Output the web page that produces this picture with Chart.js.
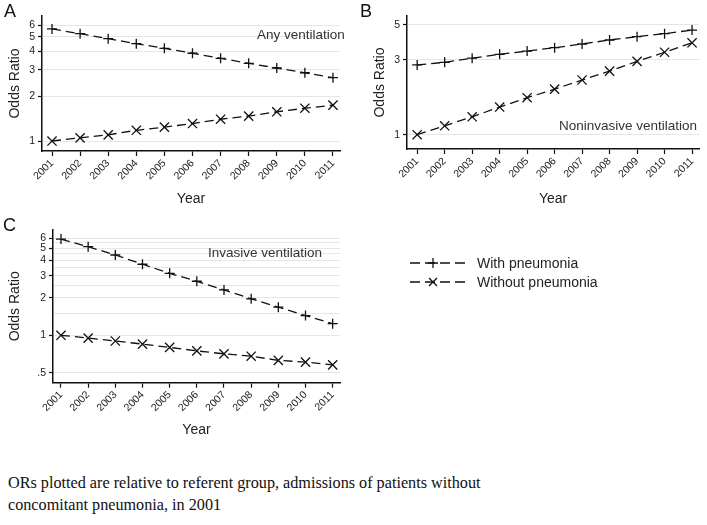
<!DOCTYPE html>
<html>
<head>
<meta charset="utf-8">
<script src="https://cdn.jsdelivr.net/npm/chart.js@4.4.0/dist/chart.umd.min.js"></script>
<style>
  html, body { margin: 0; padding: 0; background: #fff; }
  body { width: 707px; height: 525px; position: relative; overflow: hidden; font-family: "Liberation Sans", Arial, sans-serif; }
  .cv { position: absolute; }
  .lbl { position: absolute; color: #111; white-space: nowrap; line-height: 1; }
  .panel { font-size: 18px; }
  .note { font-size: 13.5px; color: #333; }
  .leg { font-size: 14px; color: #222; }
  .caption { position: absolute; left: 8px; top: 472px; font-family: "Liberation Serif", "Times New Roman", serif; font-size: 16.2px; line-height: 22px; color: #111; white-space: nowrap; }
</style>
</head>
<body>
<canvas id="cA" class="cv" style="left:0px;top:0px;" width="355" height="210"></canvas>
<canvas id="cB" class="cv" style="left:355px;top:0px;" width="352" height="210"></canvas>
<canvas id="cC" class="cv" style="left:0px;top:210px;" width="360" height="230"></canvas>

<div class="lbl panel" style="left:4px;top:2px;">A</div>
<div class="lbl panel" style="left:360px;top:2px;">B</div>
<div class="lbl panel" style="left:3px;top:216px;">C</div>

<div class="lbl note" style="left:257px;top:28px;">Any ventilation</div>
<div class="lbl note" style="left:559px;top:119px;">Noninvasive ventilation</div>
<div class="lbl note" style="left:208px;top:246px;">Invasive ventilation</div>

<svg style="position:absolute;left:400px;top:250px;" width="80" height="45">
  <line x1="10" y1="13" x2="66" y2="13" stroke="#111" stroke-width="1.3" stroke-dasharray="10,5"/>
  <path d="M33 8 L33 18 M28 13 L38 13" stroke="#111" stroke-width="1.3"/>
  <line x1="10" y1="32" x2="66" y2="32" stroke="#111" stroke-width="1.3" stroke-dasharray="10,5"/>
  <path d="M29 28 L37 36 M37 28 L29 36" stroke="#111" stroke-width="1.3"/>
</svg>
<div class="lbl leg" style="left:477px;top:256px;">With pneumonia</div>
<div class="lbl leg" style="left:477px;top:275px;">Without pneumonia</div>

<div class="caption">ORs plotted are relative to referent group, admissions of patients without<br>concomitant pneumonia, in 2001</div>

<script>
// ---------- data ----------
const years = [2001, 2002, 2003, 2004, 2005, 2006, 2007, 2008, 2009, 2010, 2011];
const seriesNames = ["With pneumonia", "Without pneumonia"];

// A: Any ventilation
const anyWith    = [5.65, 5.25, 4.86, 4.50, 4.19, 3.88, 3.59, 3.32, 3.09, 2.87, 2.66];
const anyWithout = [1.00, 1.05, 1.10, 1.18, 1.24, 1.31, 1.40, 1.47, 1.57, 1.66, 1.74];
// B: Noninvasive ventilation
const nivWith    = [2.78, 2.89, 3.07, 3.25, 3.41, 3.58, 3.78, 4.01, 4.21, 4.40, 4.64];
const nivWithout = [1.00, 1.14, 1.30, 1.50, 1.72, 1.95, 2.23, 2.54, 2.93, 3.35, 3.85];
// C: Invasive ventilation
const ivWith     = [5.90, 5.13, 4.40, 3.71, 3.14, 2.71, 2.31, 1.96, 1.68, 1.44, 1.24];
const ivWithout  = [1.00, 0.95, 0.90, 0.85, 0.80, 0.75, 0.71, 0.68, 0.63, 0.61, 0.58];

// tick labels / gridlines
const anyTicks = [1, 2, 3, 4, 5, 6];
const anyGrid  = [1, 2, 3, 4, 5, 6];
const nivTicks = [1, 3, 5];
const nivGrid  = [1, 3, 5];
const ivTicks  = [0.5, 1, 2, 3, 4, 5, 6];
const ivGrid   = [0.5, 1, 1.5, 2, 2.5, 3, 3.5, 4, 4.5, 5, 5.5, 6];

// ---------- chart builder ----------
function fmt(v) {
  if (v < 1) return String(v).replace(/^0/, '');
  return String(v);
}
const FONT = "'Liberation Sans', Arial, sans-serif";

function makePanel(id, withData, withoutData, cfg) {
  const ds = (arr, style, r, name) => ({
    label: name,
    data: years.map((y, i) => ({ x: y, y: arr[i] })),
    borderColor: '#111',
    backgroundColor: '#111',
    borderWidth: 1.3,
    borderDash: [9, 5],
    pointStyle: style,
    pointRadius: r,
    pointHoverRadius: r,
    pointBorderWidth: 1.3,
    pointBorderColor: '#111',
    tension: 0,
    fill: false,
    clip: false
  });
  return new Chart(document.getElementById(id), {
    type: 'line',
    data: {
      datasets: [
        ds(withData, 'cross', 5, seriesNames[0]),
        ds(withoutData, 'crossRot', 6.5, seriesNames[1])
      ]
    },
    options: {
      responsive: false,
      animation: false,
      events: [],
      layout: { padding: cfg.padding },
      plugins: { legend: { display: false }, tooltip: { enabled: false } },
      scales: {
        x: {
          type: 'linear',
          min: cfg.xMin, max: cfg.xMax,
          afterBuildTicks: s => { s.ticks = years.map(v => ({ value: v })); },
          afterFit: s => { s.height = cfg.xH; },
          ticks: {
            autoSkip: false, maxRotation: 45, minRotation: 45, padding: 1,
            color: '#222', font: { family: FONT, size: 10.5 },
            callback: v => String(v)
          },
          grid: { display: true, drawOnChartArea: false, drawTicks: true, tickLength: 5, tickColor: '#111', tickWidth: 1.2 },
          border: { display: true, color: '#111', width: 1.5 },
          title: { display: true, text: 'Year', color: '#222', font: { family: FONT, size: 14 }, padding: { top: 0, bottom: cfg.xTitlePad } }
        },
        y: {
          type: 'logarithmic',
          min: cfg.yMin, max: cfg.yMax,
          afterBuildTicks: s => { s.ticks = cfg.grid.map(v => ({ value: v })); },
          afterFit: s => { s.width = cfg.yW; },
          ticks: {
            autoSkip: false, padding: 3,
            color: '#222', font: { family: FONT, size: 10.5 },
            callback: v => cfg.ticks.includes(v) ? fmt(v) : ''
          },
          grid: {
            display: true, drawOnChartArea: true, drawTicks: true, tickLength: 4,
            color: '#e6e6e6', lineWidth: 1,
            tickColor: c => (c.tick && cfg.ticks.includes(c.tick.value)) ? '#111' : 'rgba(0,0,0,0)',
            tickWidth: 1.2
          },
          border: { display: true, color: '#111', width: 1.5 },
          title: { display: true, text: 'Odds Ratio', color: '#222', font: { family: FONT, size: 14 }, padding: { top: cfg.yTitlePad, bottom: 0 } }
        }
      }
    }
  });
}

makePanel('cA', anyWith, anyWithout, {
  padding: { left: 0, top: 16, right: 15, bottom: 0 },
  xMin: 2000.644, xMax: 2011.25, xH: 59, xTitlePad: 2.6,
  yMin: 0.857, yMax: 6.9, yW: 42, yTitlePad: 6.6,
  ticks: anyTicks, grid: anyGrid
});
makePanel('cB', nivWith, nivWithout, {
  padding: { left: 0, top: 16, right: 3, bottom: 0 },
  xMin: 2000.63, xMax: 2011.26, xH: 61, xTitlePad: 2.6,
  yMin: 0.811, yMax: 5.70, yW: 52, yTitlePad: 16.6,
  ticks: nivTicks, grid: nivGrid
});
makePanel('cC', ivWith, ivWithout, {
  padding: { left: 0, top: 20, right: 20, bottom: 0 },
  xMin: 2000.706, xMax: 2011.27, xH: 57.3, xTitlePad: 1.6,
  yMin: 0.417, yMax: 6.98, yW: 53, yTitlePad: 6.6,
  ticks: ivTicks, grid: ivGrid
});
</script>
</body>
</html>
